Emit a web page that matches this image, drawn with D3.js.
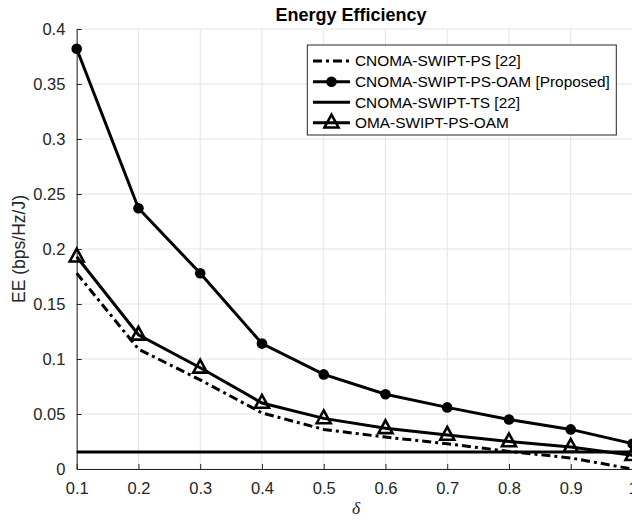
<!DOCTYPE html>
<html>
<head>
<meta charset="utf-8">
<script src="https://cdn.jsdelivr.net/npm/d3@7"></script>
<style>
  html, body { margin: 0; padding: 0; background: #fff; }
  svg { display: block; font-family: "Liberation Sans", Arial, Helvetica, sans-serif; }
</style>
</head>
<body>
<svg id="chart" width="632" height="525"></svg>
<script>
// ---- data ----
const deltas = [0.1, 0.2, 0.3, 0.4, 0.5, 0.6, 0.7, 0.8, 0.9, 1.0];
const cnomaPS = [0.178, 0.109, 0.081, 0.051, 0.036, 0.029, 0.023, 0.016, 0.010, 0.0];
const cnomaPSOAM = [0.382, 0.237, 0.178, 0.114, 0.086, 0.068, 0.056, 0.045, 0.036, 0.023];
const cnomaTS = [0.0155, 0.0155, 0.0155, 0.0155, 0.0155, 0.0155, 0.0155, 0.0155, 0.0155, 0.0155];
const omaPSOAM = [0.193, 0.122, 0.092, 0.060, 0.046, 0.037, 0.031, 0.025, 0.020, 0.0125];
const xTicks = [0.1, 0.2, 0.3, 0.4, 0.5, 0.6, 0.7, 0.8, 0.9, 1];
const yTicks = [0, 0.05, 0.1, 0.15, 0.2, 0.25, 0.3, 0.35, 0.4];
const seriesNames = ["CNOMA-SWIPT-PS [22]", "CNOMA-SWIPT-PS-OAM [Proposed]", "CNOMA-SWIPT-TS [22]", "OMA-SWIPT-PS-OAM"];
const titleText = "Energy Efficiency";
const xLabel = "\u03B4";
const yLabel = "EE (bps/Hz/J)";

// ---- layout ----
const svg = d3.select("#chart");
const pLeft = 76.7, pRight = 632.5, pTop = 29, pBottom = 469;
const axisColor = "#262626";
const gridColor = "#e3e3e3";

const x = d3.scaleLinear().domain([0.1, 1]).range([pLeft, pRight]);
const y = d3.scaleLinear().domain([0, 0.4]).range([pBottom, pTop]);

// grid
const grid = svg.append("g");
grid.selectAll(null).data(xTicks).enter().append("line")
  .attr("x1", d => x(d)).attr("x2", d => x(d))
  .attr("y1", pTop).attr("y2", pBottom)
  .attr("stroke", gridColor).attr("stroke-width", 1);
grid.selectAll(null).data(yTicks).enter().append("line")
  .attr("x1", pLeft).attr("x2", pRight)
  .attr("y1", d => y(d)).attr("y2", d => y(d))
  .attr("stroke", gridColor).attr("stroke-width", 1);

// axes (ticks inside)
const fmt = d3.format("~g");
const xAxis = d3.axisBottom(x).tickValues(xTicks).tickFormat(fmt).tickSizeInner(-5).tickSizeOuter(0).tickPadding(13);
const yAxis = d3.axisLeft(y).tickValues(yTicks).tickFormat(fmt).tickSizeInner(-5).tickSizeOuter(0).tickPadding(13);

const gx = svg.append("g").attr("transform", `translate(0,${pBottom})`).call(xAxis);
const gy = svg.append("g").attr("transform", `translate(${pLeft},0)`).call(yAxis);
[gx, gy].forEach(g => {
  g.select(".domain").attr("stroke", axisColor).attr("stroke-width", 1);
  g.selectAll(".tick line").attr("stroke", axisColor);
  g.selectAll(".tick text").attr("fill", axisColor)
    .style("font-family", "'Liberation Sans', Arial, sans-serif").style("font-size", "16.5px");
});
gy.selectAll(".tick text").attr("dx", "0.1em");

// lines
const lineGen = vals => d3.line().x((d, i) => x(deltas[i])).y(d => y(d))(vals);
const plot = svg.append("g");
const styles = [
  { vals: cnomaPS, dash: "9,4,3,4", marker: null },
  { vals: cnomaPSOAM, dash: null, marker: "circle" },
  { vals: cnomaTS, dash: null, marker: null },
  { vals: omaPSOAM, dash: null, marker: "triangle" }
];
const triPath = "M0,-8L7,4.8L-7,4.8Z";

styles.forEach(s => {
  plot.append("path").attr("d", lineGen(s.vals))
    .attr("fill", "none").attr("stroke", "#000").attr("stroke-width", 3)
    .attr("stroke-dasharray", s.dash);
  if (s.marker === "circle") {
    plot.selectAll(null).data(s.vals).enter().append("circle")
      .attr("cx", (d, i) => x(deltas[i])).attr("cy", d => y(d))
      .attr("r", 5.3).attr("fill", "#000");
  } else if (s.marker === "triangle") {
    plot.selectAll(null).data(s.vals).enter().append("path")
      .attr("d", triPath)
      .attr("transform", (d, i) => `translate(${x(deltas[i])},${y(d)})`)
      .attr("fill", "none").attr("stroke", "#000").attr("stroke-width", 2.6);
  }
});

// title
svg.append("text").attr("x", 351).attr("y", 21)
  .attr("text-anchor", "middle").attr("font-weight", "bold")
  .attr("font-size", "18px").attr("fill", "#000").text(titleText);

// x label
svg.append("text").attr("x", 356).attr("y", 514)
  .attr("text-anchor", "middle")
  .style("font-family", "'Liberation Serif', 'Times New Roman', serif")
  .style("font-style", "italic").style("font-size", "17.5px")
  .attr("fill", axisColor).text(xLabel);

// y label
svg.append("text")
  .attr("transform", `translate(25,${(pTop + pBottom) / 2}) rotate(-90)`)
  .attr("text-anchor", "middle").attr("font-size", "17.5px")
  .attr("fill", axisColor).text(yLabel);

// legend
const lg = svg.append("g");
const lx0 = 307.3, ly0 = 45, lw = 309, lh = 90;
lg.append("rect").attr("x", lx0).attr("y", ly0).attr("width", lw).attr("height", lh)
  .attr("fill", "#fff").attr("stroke", axisColor).attr("stroke-width", 1);
const rowY = [61, 81.7, 102.3, 122.7];
styles.forEach((s, i) => {
  const ry = rowY[i];
  lg.append("line").attr("x1", 313).attr("x2", 350).attr("y1", ry).attr("y2", ry)
    .attr("stroke", "#000").attr("stroke-width", 3).attr("stroke-dasharray", s.dash);
  if (s.marker === "circle") {
    lg.append("circle").attr("cx", 331.5).attr("cy", ry).attr("r", 5.3).attr("fill", "#000");
  } else if (s.marker === "triangle") {
    lg.append("path").attr("d", triPath).attr("transform", `translate(331.5,${ry})`)
      .attr("fill", "none").attr("stroke", "#000").attr("stroke-width", 2.6);
  }
  lg.append("text").attr("x", 355).attr("y", ry).attr("dy", "0.35em")
    .attr("font-size", "15.4px").attr("fill", "#000").text(seriesNames[i]);
});
</script>
</body>
</html>
